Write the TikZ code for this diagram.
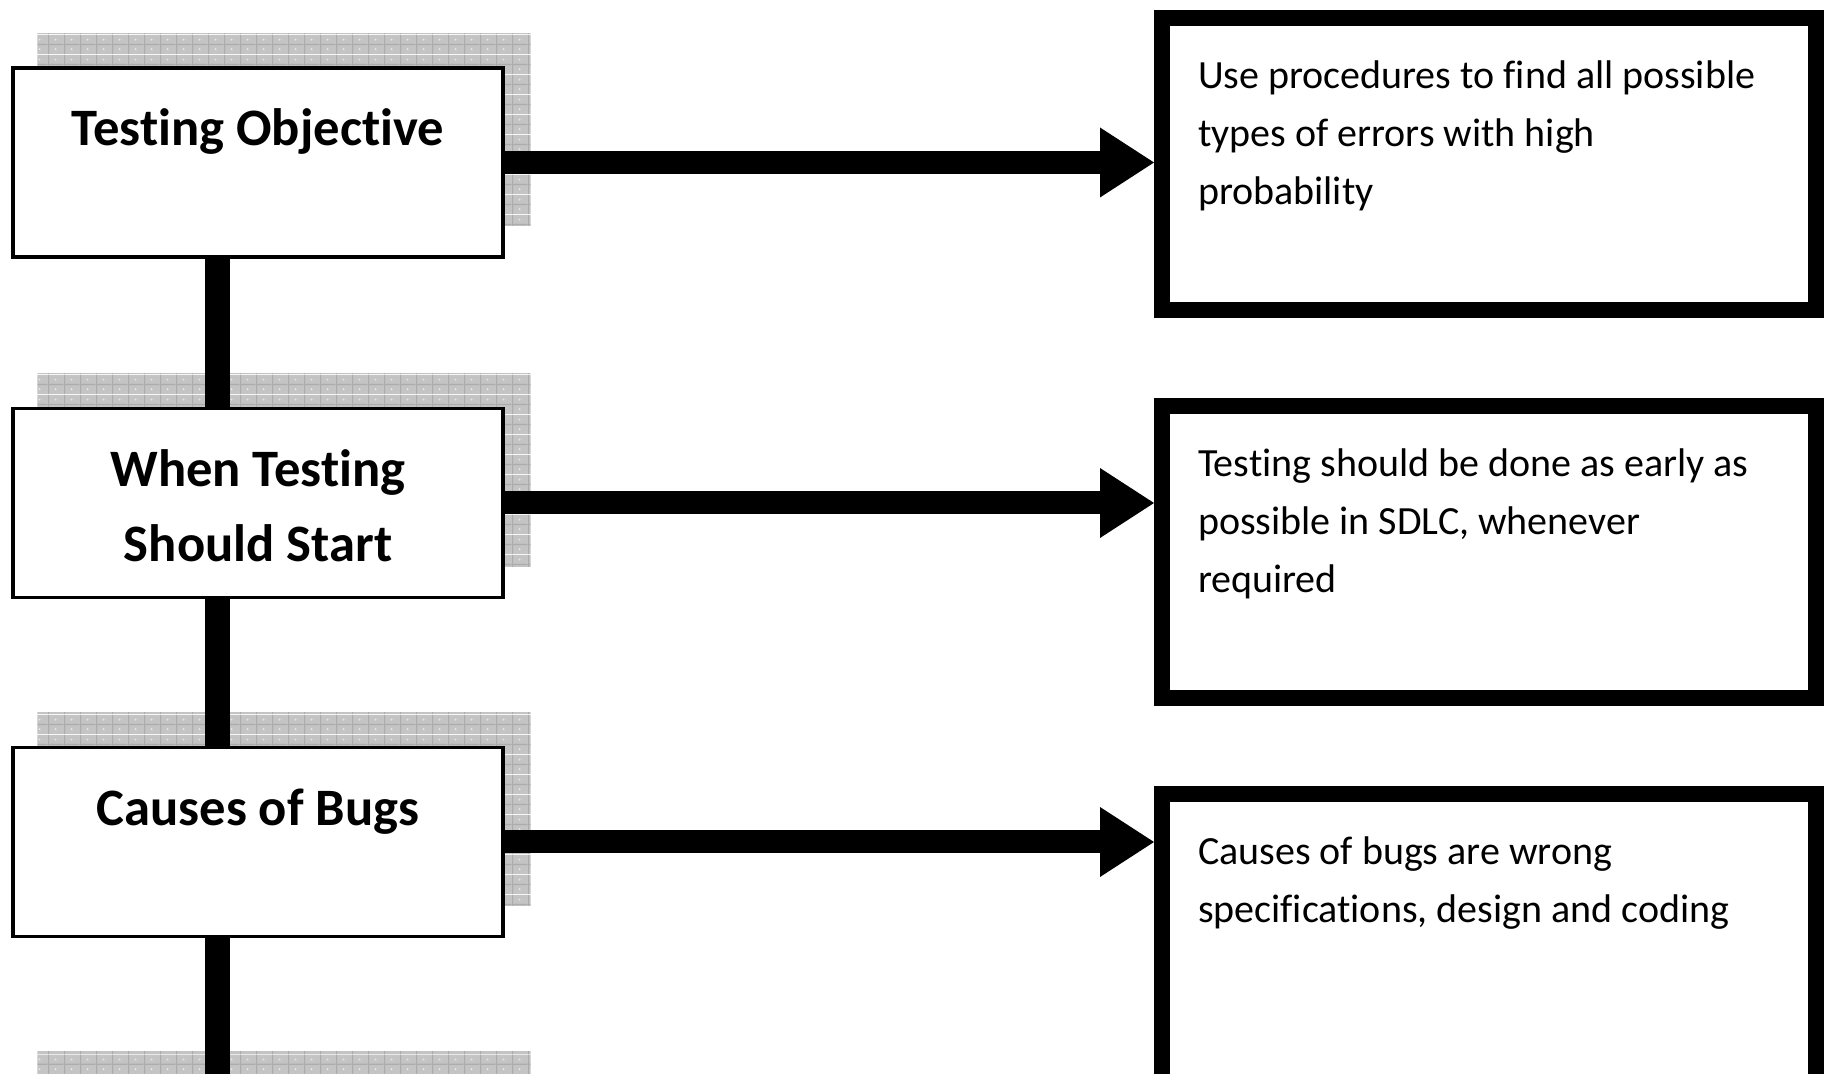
\documentclass[tikz,border=0pt]{standalone}
\usepackage{fontspec}
\setmainfont{Carlito}[Ligatures=NoCommon]
\usetikzlibrary{arrows.meta,calc,patterns,backgrounds}
\definecolor{shadowgray}{RGB}{196,196,196}
\definecolor{gridgray}{RGB}{172,172,172}
\definecolor{dotgray}{RGB}{232,232,232}
\pgfdeclarepatterninherentlycolored{shgrid}{\pgfpointorigin}{\pgfqpoint{8pt}{10pt}}{\pgfqpoint{8pt}{10pt}}{%
  \pgfsetfillcolor{shadowgray}%
  \pgfpathrectangle{\pgfpointorigin}{\pgfqpoint{8pt}{10pt}}\pgfusepath{fill}%
  \pgfsetstrokecolor{gridgray}\pgfsetlinewidth{0.6pt}%
  \pgfpathmoveto{\pgfqpoint{0.3pt}{0pt}}\pgfpathlineto{\pgfqpoint{0.3pt}{10pt}}%
  \pgfpathmoveto{\pgfqpoint{0pt}{5pt}}\pgfpathlineto{\pgfqpoint{8pt}{5pt}}%
  \pgfusepath{stroke}%
  \pgfsetfillcolor{dotgray}%
  \pgfpathcircle{\pgfqpoint{4pt}{2.5pt}}{0.55pt}%
  \pgfpathcircle{\pgfqpoint{4pt}{7.5pt}}{0.55pt}\pgfusepath{fill}%
}
\tikzset{
  lbox/.style={draw=black, line width=1.6pt, fill=white, text width=245pt, align=flush center,
    inner xsep=0pt, inner ysep=0pt, text height=39pt, text depth=55.5pt,
    font=\bfseries\fontsize{26.3}{37.5}\selectfont},
  rbox/.style={draw=black, line width=8pt, fill=white, text width=291pt, inner xsep=18pt,
    inner ysep=0pt, align=flush left, text height=35.5pt, text depth=110.5pt,
    font=\fontsize{20}{29}\selectfont},
  vconn/.style={line width=12.5pt, draw=black},
  harrow/.style={line width=11.5pt, draw=black, -{Triangle[length=27pt,width=35pt,line width=0pt]}},
  shadowbox/.style={pattern=shgrid},
}
\begin{document}
\begin{tikzpicture}[x=0.5pt,y=-0.5pt]
\useasboundingbox (0,0) rectangle (1833,1074);
\clip (0,0) rectangle (1833,1074);

% left boxes
\node[lbox] (l1) at (258,162.5) {Testing Objective};
\node[lbox] (l2) at (258,503) {When Testing\\Should Start};
\node[lbox] (l3) at (258,842) {Causes of Bugs};

% right boxes
\node[rbox] (r1) at (1489,163.7) {Use procedures to find all possible\\types of errors with high\\probability};
\node[rbox] (r2) at (1489,551.6) {Testing should be done as early as\\possible in SDLC, whenever\\required};
\node[rbox] (r3) at (1489,939.8) {Causes of bugs are wrong\\specifications, design and coding};

% shadows
\begin{pgfonlayer}{background}
\fill[white] (0,0) rectangle (1833,1074);
\path[shadowbox] ($(l1.north west)+(26,-33)$) rectangle ($(l1.south east)+(26,-33)$);
\path[shadowbox] ($(l2.north west)+(26,-33)$) rectangle ($(l2.south east)+(26,-33)$);
\path[shadowbox] ($(l3.north west)+(26,-33)$) rectangle ($(l3.south east)+(26,-33)$);
\path[shadowbox] ($(l3.north west)+(26,306)$) rectangle ($(l3.south east)+(26,306)$);
\end{pgfonlayer}

% vertical connectors
\coordinate (cx) at (217,0);
\coordinate (bot) at (217,1100);
\draw[vconn] (l1.south -| cx) -- (l2.north -| cx);
\draw[vconn] (l2.south -| cx) -- (l3.north -| cx);
\draw[vconn] (l3.south -| cx) -- (bot);

% arrows
\draw[harrow] (l1.east) -- (l1.east -| r1.west);
\draw[harrow] (l2.east) -- (l2.east -| r2.west);
\draw[harrow] (l3.east) -- (l3.east -| r3.west);
\end{tikzpicture}
\end{document}
